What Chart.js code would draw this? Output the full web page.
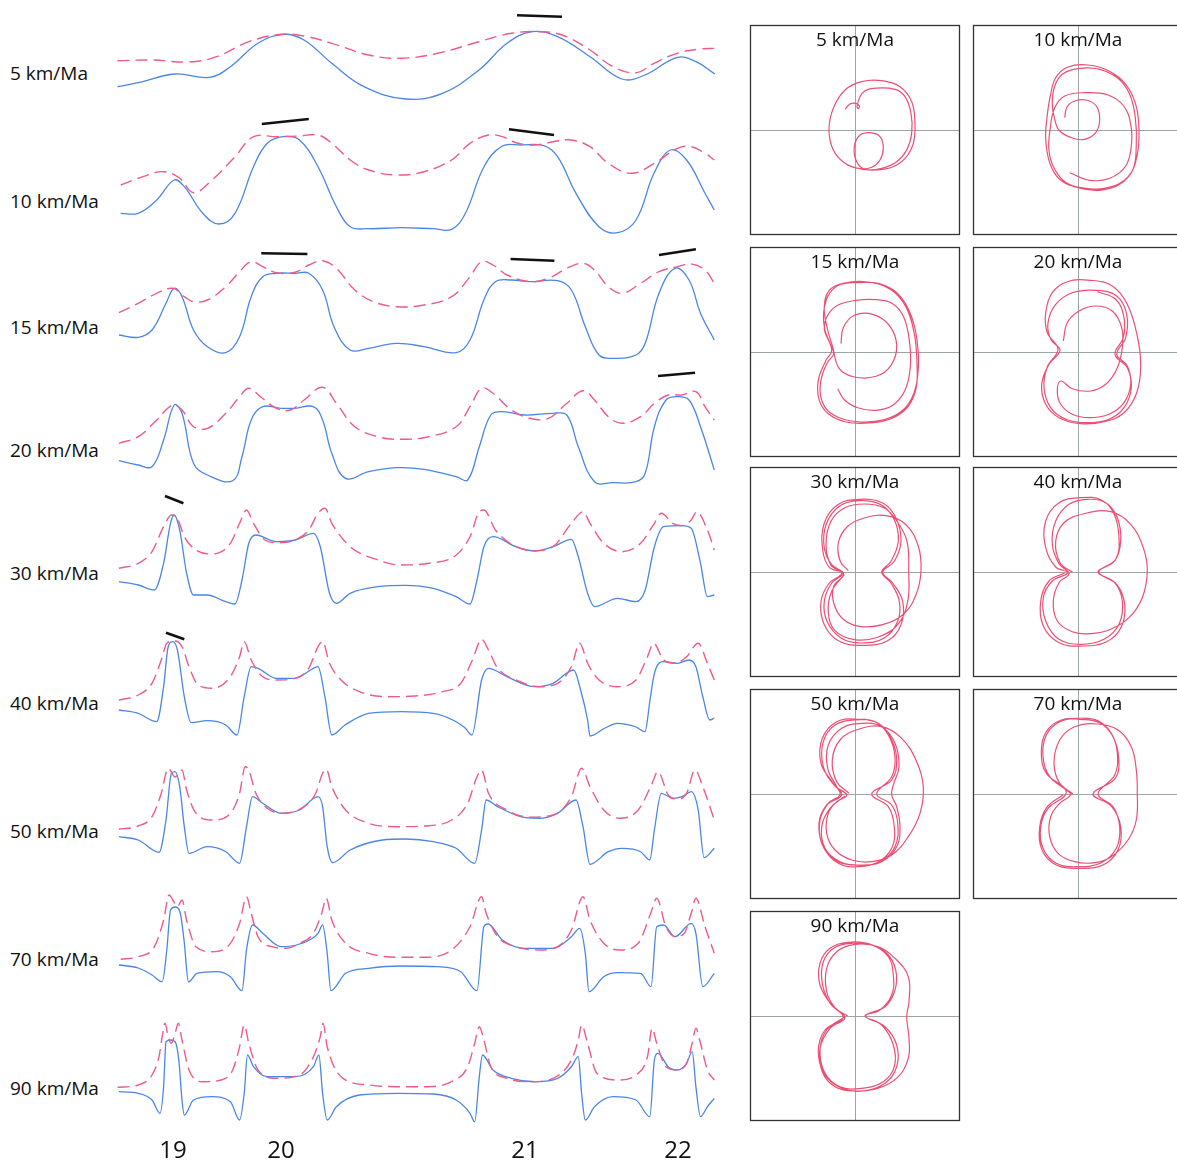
<!DOCTYPE html>
<html><head><meta charset="utf-8">
<script src="https://cdn.jsdelivr.net/npm/chart.js@4.4.1/dist/chart.umd.min.js"></script>
<style>
html,body{margin:0;padding:0;background:#fff;width:1177px;height:1162px;overflow:hidden;position:relative;font-family:"Open Sans",sans-serif;}
canvas{position:absolute;}
.lbl{position:absolute;font-size:19px;line-height:24px;color:#111;white-space:nowrap;}
.ttl{position:absolute;font-size:19px;line-height:24px;color:#111;text-align:center;width:210px;}
</style></head><body>
<script>
// ---------- DATA ----------
const rates = ['5 km/Ma','10 km/Ma','15 km/Ma','20 km/Ma','30 km/Ma','40 km/Ma','50 km/Ma','70 km/Ma','90 km/Ma'];
const tickPositions = [56, 164, 408, 561];
const tickLabels = ['19','20','21','22'];

// profiles: [distance, anomaly]
const solid5 = [[0.5,23.3],[21,27.3],[58,36],[92.7,32.7],[113.4,43.3],[141,66.7],[166.4,75.7],[187,70],[214.8,46.7],[247,23.3],[288.5,11],[325.4,16.7],[362,40],[390,66.7],[415,78.3],[440.6,73.3],[473,53.3],[505,31],[528,35],[560.4,52.7],[579,48.3],[598,36]];
const dashed5 = [[0.5,49.3],[35,50],[72,48],[99.6,53.3],[131.8,68.3],[164,75.7],[187,74],[214.8,66.7],[251.7,55],[284,51.7],[320.8,56.7],[362,68.3],[394.5,76.7],[422,78.3],[445,75],[473,60],[496,43.3],[519,37.3],[537,46.7],[560,56.7],[583.5,61],[599,61.7]];
const marks5 = [[[400,94.7],[445,93.3]]];

const solid10 = [[3.7,26.7],[21.2,26.7],[39.7,40],[57.2,60],[67.3,53.3],[85.8,26.7],[101.9,16],[118,26.7],[136.5,73.3],[150.3,96.7],[166.4,103.3],[182.5,100],[201,73.3],[219.4,33.3],[233.2,13.3],[251.7,11.3],[284,12.3],[316.2,11.3],[334.6,10.7],[348.4,26.7],[367,73.3],[385.3,94],[403.7,95],[426.8,94.3],[440.6,83.3],[459,46.7],[482,13.3],[500.5,7.3],[519,20],[537,66.7],[553.5,90],[569.6,80],[588,46.7],[597.3,30]];
const dashed10 = [[3.7,55],[25.9,63.3],[46.6,68.3],[62.7,61.7],[76.5,47.3],[95,60],[118,83.3],[136.5,103.3],[159.5,103.3],[182.5,104],[201,105],[214.8,96.7],[233.2,80],[251.7,70],[279.3,65],[307,68.3],[334.6,80],[353,96.7],[371.5,105],[385.3,103.3],[399,97.3],[417.6,95],[436,98.3],[454.4,100],[473,93.3],[491.3,76.7],[514.3,66.7],[537.4,76.7],[560.4,91.7],[574.2,93.3],[588,86.7],[597.3,80]];
const marks10 = [[[144.8,116],[191.8,121]],[[392,110.7],[437,105]]];

const solid15 = [[1.9,30],[21.2,27.7],[35,35],[49,61.7],[57.2,76.7],[65,68.3],[76.5,35],[90.4,18.3],[108.8,12.3],[122.6,28.3],[134.2,68.3],[145.7,88.3],[159.5,91.7],[178,91.7],[191.8,91.7],[205.6,75],[217,38.3],[233.2,15],[251.7,16.7],[279.3,21.7],[307,18.3],[339.2,12.3],[353,25],[366.9,65],[378.4,83.3],[394.5,85],[413,83.3],[440.6,84.3],[454.4,75],[468.3,38.3],[482,10],[496,6.7],[519,10],[528.2,21.7],[542,71.7],[558,96.7],[572,85],[583.5,51.7],[597.3,25]];
const dashed15 = [[1.9,52.3],[21.2,61.7],[39.7,71.7],[55.8,76.7],[67.3,68.3],[76.5,63.3],[90.4,65],[108.8,78.3],[122.6,93.3],[134.2,103.3],[145.7,98.3],[159.5,92.3],[178,92.7],[191.8,100],[205.6,104.3],[219.4,96.7],[237.8,75],[256.3,63.3],[279.3,58.3],[307,60],[334.6,68.3],[353,88.3],[364.6,103.3],[376,100],[390,90],[413,83.3],[431.4,86.7],[449.8,96.7],[466,101.7],[477.5,95],[491.3,78.3],[505,71.7],[523.6,81.7],[542,93.3],[560.4,98.3],[574.2,101],[588,95],[597.3,81.7]];
const marks15 = [[[144.3,111.7],[190.4,111]],[[393.6,106],[437.4,104.3]],[[542,110],[578.9,115.7]]];

const solid20 = [[1.9,29.3],[21.2,25],[35,23.3],[46.6,50],[57.2,85],[65,76.7],[76.5,26.7],[90.4,15],[115.7,9.3],[125,33.3],[134.2,70],[145.7,83.3],[164,81.7],[178,81.7],[196.4,83.3],[205.6,70],[214.8,36.7],[228.6,11.7],[251.7,18.3],[279.3,22.3],[307,20.7],[339.2,13.3],[350.7,10],[362.3,43.3],[373.8,75],[385.3,78.3],[408.3,75],[436,76.7],[449.8,75],[461.3,43.3],[477.5,8.3],[496,7.3],[519,8.3],[528.2,16.7],[537.4,63.3],[549,90],[560.4,93.3],[572,90],[583.5,63.3],[597.3,20]];
const dashed20 = [[1.9,46.7],[21.2,53.3],[39.7,70],[55.8,85],[65,80],[76.5,63.3],[90.4,61.7],[108.8,76.7],[122.6,93.3],[131.8,101.7],[143.4,93.3],[159.5,81.7],[173.3,80],[187.1,90],[205.6,102.7],[219.4,86.7],[237.8,63.3],[260.9,53.3],[284,50.7],[311.6,53.3],[339.2,63.3],[353,83.3],[364.6,101.7],[376,96.7],[394.5,80],[413,71.7],[431.4,71.7],[449.8,86.7],[466,99.3],[477.5,90],[491.3,73.3],[505,66.7],[523.6,73.3],[537.4,86.7],[551.2,95],[565,95],[578.9,98.3],[588,83.3],[597.3,70]];
const marks20 = [[[541,114],[578,117.3]]];

const solid30 = [[1.9,30.3],[21.2,27],[37.4,22],[46.6,48.7],[53.5,88.7],[57.2,97],[62.7,82],[69.6,38.7],[76.5,17],[90.4,17],[108.8,10.3],[118,8],[125,32],[131.8,68.7],[138.8,77],[159.5,70.3],[178,72],[196.4,78.7],[203.3,65.3],[212.5,18.7],[219.4,8.7],[233.2,18.7],[260.9,25.3],[288.5,26.7],[316.2,23.7],[339.2,15.3],[353,8],[360,32],[366.9,65.3],[376,75.3],[399,65.3],[417.6,61],[436,65.3],[454.4,72.7],[461.3,55.3],[470.6,18.7],[477.5,5.3],[500.5,13.7],[519,10.3],[528.2,22],[537.4,65.3],[546.6,85.3],[565,86.3],[574.2,83.7],[583.5,48.7],[590.4,15.3],[597.3,17]];
const dashed30 = [[1.9,43.7],[21.2,48.7],[35,60.3],[46.6,85.3],[54.4,97],[60.4,93.7],[67.3,75.3],[78.9,62],[95,58],[113.4,68.7],[122.6,88.7],[129.5,102],[136.5,88.7],[148,72],[159.5,69.3],[178,72],[191.8,82],[201,98.7],[207.9,103.7],[214.8,88.7],[233.2,65.3],[260.9,52],[284,47],[311.6,48.7],[339.2,57],[353,75.3],[362.3,100.3],[366.9,102],[378.4,82],[399,65.3],[417.6,61.3],[436,65.3],[454.4,88.7],[466,100.3],[473,88.7],[486.7,68.7],[505,60.3],[523.6,68.7],[537.4,88.7],[544.3,98.7],[555.8,88.7],[565,86.3],[574.2,92],[579.8,100.3],[590.4,82],[597.3,62]];
const marks30 = [[[48,116],[66.4,108.7]]];

const solid40 = [[1.9,30],[21.2,26.7],[39.7,18.3],[46.6,53.3],[51.2,93.3],[55.8,98.3],[60.4,90],[67.3,43.3],[74.2,17.3],[90.4,19.3],[108.8,15],[120,5],[127.2,43.3],[134.2,73.3],[141,71.7],[159.5,61.7],[178,61.7],[196.4,71.7],[201,73.3],[207.9,43.3],[214.8,5],[228,15],[251.7,26.7],[284,28.3],[316.2,26.7],[339.2,18.3],[348.4,11.7],[355,5],[364.6,60],[371.5,71.7],[390,63.3],[417.6,53.3],[436,56.7],[456.7,70],[463.6,50],[470.6,20],[473,4],[488,12],[500.5,16.7],[519,13],[528,8.3],[533,40],[537.4,66.7],[546.6,78.3],[560.4,76.7],[572,80],[578.9,73.3],[585.8,43.3],[592.7,20],[597.3,22]];
const dashed40 = [[1.9,40],[21.2,45],[35,56.7],[44.3,80],[49.8,96.7],[57.2,99.3],[65,93.3],[72,73.3],[81.2,55],[95,51.7],[113.4,63.3],[122.6,83.3],[127.2,98.3],[134.2,80],[145.7,63.3],[159.5,60],[178,61.7],[191.8,71.7],[201,93.3],[205.6,98.3],[212.5,76.7],[224,60],[242.4,48.3],[270,43.3],[297.7,44],[325.4,48.3],[343.8,56.7],[355.4,80],[364.6,100.7],[371.5,90],[380.7,71.7],[399,60],[422,53.3],[440.6,56.7],[454.4,73.3],[462.7,96.7],[470.6,76.7],[482,60],[500.5,53.3],[519,60],[530.5,83.3],[536.5,96.7],[546.6,80],[558,76.7],[569.6,83.3],[581.2,96.7],[590.4,76.7],[597.3,60]];
const marks40 = [[[49,107.3],[67.3,100.7]]];

const solid50 = [[1.9,33.3],[21.2,30],[42,17.7],[49,50],[54.4,96.7],[58.1,98.3],[62.7,83.3],[67.3,43.3],[72,16.7],[90.4,23.3],[108.8,18.3],[122.6,6.7],[129.5,43.3],[135.5,73.3],[145.7,66.7],[164,56.7],[182.5,60],[201,73.3],[205.6,63.3],[210.2,23.3],[215.7,7.3],[233.2,20],[265.5,30],[288.5,31],[316.2,28.3],[339.2,21.7],[357.7,6.7],[364.6,40],[369.2,70],[380.7,63.3],[403.7,53.3],[422.2,51.7],[440.6,56.7],[459,70],[466,43.3],[473,5.7],[491.3,18.3],[505,21.7],[523.6,18.3],[532.8,10],[537.4,40],[544.3,76.7],[555.8,71.7],[565,73.3],[574.2,78.3],[581.2,60],[587.1,12.3],[597.3,21.7]];
const dashed50 = [[1.9,40.7],[21.2,44],[35,53.3],[44.3,76.7],[51.2,101.7],[58.1,93],[65,100],[69.6,80],[78.9,56.7],[95,50],[113.4,56.7],[122.6,76.7],[128.2,103.3],[131.8,100],[138.8,76.7],[150.3,61.7],[164,56.7],[182.5,60.7],[198.7,76.7],[205.6,96.7],[209.3,100.7],[214.8,83.3],[228.6,60],[251.7,46.7],[279.3,43.3],[307,44],[334.6,50],[350.7,66.7],[360,93.3],[364.6,100],[371.5,76.7],[390,60],[413,52.7],[436,55],[454.4,73.3],[464.6,101.7],[473,83.3],[486.7,60],[502.8,51.7],[521.2,60],[533.7,83.3],[541,98.3],[551.2,75],[560.4,71],[569.6,76.7],[578,100],[585.8,83.3],[597.3,50]];

const solid70 = [[1.9,30],[21.2,27],[35,20],[45.2,13.3],[49.8,45],[53.5,85],[58,88],[63,83],[67,55],[71.5,13],[80,21.7],[99.6,23.3],[113.4,18.3],[125,4.3],[129.5,45],[135.5,70],[145.7,61.7],[164,48.3],[182.5,51],[201,61.7],[205.6,70],[210.2,41.7],[213.9,4.3],[228.6,21.7],[251.7,26.7],[284,29],[320.8,28.3],[343.8,23.3],[360,4.3],[366.9,68.3],[371,71],[385.3,55],[408.3,46.7],[436,46.7],[454.4,58.3],[462.7,66.7],[468.3,41.7],[472,3.3],[486.7,18.3],[500.5,22.3],[523.6,21.7],[534,8.3],[539.7,68.3],[546.6,70],[558.1,58.3],[574.2,71.7],[578.9,61.7],[585.8,8.3],[597.3,21.7]];
const dashed70 = [[3.7,35.7],[21.2,38.3],[37.4,48.3],[46.6,75],[52.1,100],[55.8,95],[60.4,88.3],[65,95],[69.6,75],[78.9,48.3],[95,43.3],[113.4,51.7],[122.6,71.7],[129.5,98.3],[134.2,81.7],[141,58.3],[154.9,48.3],[168.7,46.7],[182.5,51.7],[196.4,61.7],[204.7,81.7],[209.3,96.7],[214.8,75],[228.6,51.7],[251.7,41.7],[279.3,37.7],[307,37.7],[334.6,45],[353,68.3],[364.6,98.3],[369.2,81.7],[380.7,58.3],[399,48.3],[422.2,45],[440.6,48.3],[454.4,65],[466,98.3],[473,75],[486.7,51.7],[502.8,45],[521.2,51.7],[533.7,81.7],[539.7,96.7],[548.9,68.3],[558.1,58.3],[567.3,61.7],[574.2,81.7],[578.9,96.7],[588,68.3],[597.3,41.7]];

const solid90 = [[1.9,33.3],[21.2,31.7],[35,25],[43,11.7],[46.6,38.3],[49,83.3],[53.5,85],[58.1,83.3],[61.8,65],[65,25],[67.3,10],[76.5,25],[95,28.3],[113.4,23.3],[122.6,5],[127.2,31.7],[130.5,70],[136.5,58.3],[150.3,48.3],[178,48.3],[196.4,58.3],[201.9,70],[205.6,31.7],[210.2,5],[219.4,18.3],[242.4,30],[279.3,31.7],[316.2,31],[339.2,25],[353,11.7],[357.7,3.3],[362.3,48.3],[365.5,70],[376,55],[394.5,46.7],[417.6,43.3],[440.6,46.7],[454.4,58.3],[461.3,68.3],[464.6,31.7],[468.3,5],[477.5,18.3],[496,28.3],[519,25],[532.8,8.3],[537.4,65],[541,71.7],[551.2,58.3],[560.4,55],[569.6,61.7],[575.2,73.3],[578.9,38.3],[583.5,8.3],[590.4,18.3],[597.3,26.7]];
const dashed90 = [[0.5,37.7],[21.2,40],[35,50],[42,68.3],[45.2,88.3],[48,101.7],[51.2,88.3],[54.4,81.7],[58.1,91.7],[61.3,101.7],[65,85],[72,55],[85.8,43.3],[104.2,45],[115.7,55],[122.6,78.3],[127.2,100],[131.8,81.7],[141,55],[159.5,46.7],[182.5,50],[196.4,68.3],[203.3,88.3],[206,101.7],[210.2,78.3],[224,48.3],[251.7,40],[279.3,38.3],[307,38.3],[334.6,43.3],[350.7,58.3],[357.7,81.7],[362.3,98.3],[366.9,85],[373.8,58.3],[390,46.7],[413,43.3],[436,46.7],[454.4,65],[461.3,85],[464.6,100],[470.6,81.7],[479.8,51.7],[500.5,45],[519,50],[530.5,68.3],[535.1,96.7],[539.7,81.7],[548.9,58.3],[560.4,55],[569.6,61.7],[575.2,81.7],[578.9,96.7],[583.5,81.7],[590.4,55],[597.3,45]];

// hodographs: [horizontal, vertical]
const loop5 = [[-10,20.7],[-5,26],[0.7,26.7],[4.3,24],[3.3,21.3],[2,23.3],[5,33.3],[10,39.3],[18.3,41.7],[40,40.7],[50,33.3],[56,16.7],[56.7,-3.3],[51.7,-20],[41.7,-31.7],[26.7,-38.3],[10,-39.3],[1.7,-31.7],[-0.7,-16.7],[5,-5],[15,-2.7],[25,-6.7],[28.3,-18.3],[25,-30],[16.7,-37.3],[5,-38.7],[-10,-33.3],[-21.7,-20],[-26,0],[-21.7,21.7],[-10,40],[6.7,48.3],[26.7,49.3],[45,43.3],[56.7,28.3],[60,6.7],[58.3,-13.3],[50,-28.3],[36.7,-37.3],[20,-40],[6.7,-39.3]];
const loop10 = [[-8.3,-42.7],[11.7,-50.3],[31.7,-48.3],[47.7,-36],[53.3,-16],[52.7,5.7],[45.7,24],[30,35],[6.7,37.3],[-13.3,34],[-23.3,22.3],[-27.7,2.3],[-29,-21],[-23.3,-39.3],[-11.7,-52.7],[8.3,-58.3],[30,-57.7],[50,-47],[59,-26],[61,0.7],[57.7,25.7],[47.7,45.7],[31,59],[10,65],[-10,63],[-22.3,52.3],[-27.7,34],[-31,12.3],[-32.3,-9.3],[-28.3,-32.7],[-18.3,-49.3],[0,-57.7],[21.7,-60.3],[41.7,-54.3],[55,-39.3],[58.3,-14.3],[57.3,12.3],[51.7,35.7],[40,51.7],[21.7,60.7],[1.7,61.7],[-15,56.3],[-23.3,44],[-25.7,25.7],[-23.3,10.7],[-18.3,-1],[-5,-8.3],[6.7,-9.3],[17.7,-2.7],[21.7,10.7],[18.3,24],[8.3,30],[-3.3,29],[-11,23],[-13.3,12.3]];
const loop15 = [[-17.3,-36.7],[-10.7,-47.7],[2.7,-55.7],[21,-58.3],[37.7,-53.3],[50,-38.3],[55.3,-15],[54.3,11.7],[48.7,35],[37.7,48.3],[21,52.3],[1,51.7],[-17.3,46.7],[-27.3,36.7],[-30.7,23.3],[-25.7,10],[-21.3,-1.7],[-27.3,-10],[-33.3,-25],[-34.7,-41.7],[-29,-56.7],[-15.7,-65.7],[6,-70],[29.3,-67.7],[47.7,-58.3],[58.7,-41.7],[63.3,-16.7],[62,11.7],[56,36.7],[42.7,58.3],[24.3,68.3],[4.3,69.3],[-14,67.7],[-25.7,58.3],[-31.3,40],[-30,21.7],[-23.3,1.7],[-29,-8.3],[-36.7,-28.3],[-35.7,-48.3],[-26.7,-61.7],[-9,-70],[14.3,-71],[36,-66.7],[52.7,-55],[61,-36.7],[62,-11.7],[59.3,18.3],[51,45],[36,62.3],[12.7,70],[-10.7,69],[-25.7,61.7],[-30.7,45],[-28,25],[-22.3,5],[-15.7,-16.7],[-0.7,-25],[21,-24.3],[36,-13.3],[41.7,6.7],[34.3,26.7],[17.7,37.7],[-0.7,36.7],[-11.7,24.3],[-14,8.3]];
const loop20 = [[-14.7,11],[-10.7,29.3],[1,41],[17.7,46],[34.3,41],[43.7,24.3],[44.3,4.3],[38.7,-17.3],[27.7,-32.3],[12.7,-39],[-5.7,-36.7],[-17.3,-29],[-20.7,-39],[-17.3,-52.3],[-5.7,-62.3],[11,-65.7],[31,-62.3],[46,-50.7],[52.7,-32.3],[49.3,-14],[38.7,-2.3],[47.7,14.3],[48.7,37.7],[38.7,56],[17.7,61.7],[-5.7,59.3],[-22.3,47.7],[-30,29.3],[-27.3,12.7],[-18,1.7],[-29,-12.3],[-36.3,-32.3],[-32.3,-52.3],[-19,-65.7],[2.7,-71.7],[26,-69.7],[46,-60.7],[58.7,-40.7],[62.7,-14],[59.3,16],[49.3,47.7],[34.3,66],[12.7,71.7],[-10.7,70.3],[-25.7,59.3],[-32.3,39.3],[-30.7,19.3],[-20,2.7],[-30.7,-15],[-34,-35.7],[-27.3,-55.7],[-12.3,-67.3],[9.3,-70.7],[31,-67.3],[46,-55.7],[53.3,-35.7],[49.3,-15.7],[37,-2.3],[45.3,14.3],[46,34.3],[37.7,52.7],[19.3,60.3]];
const loop30 = [[-6.7,1.3],[-14.7,10.7],[-16.7,29],[-7.3,45.7],[9.3,54],[31,56.3],[51,47.3],[63.3,25.7],[66,0.7],[61,-22.7],[48.7,-42],[27.7,-52.7],[4.3,-54.3],[-12.3,-46.7],[-21.3,-31],[-21.3,-14.3],[-11.3,-2],[-23.3,7.3],[-30.7,24],[-29,47.3],[-15.7,65.7],[4.3,71.3],[26,67.3],[39.3,52.3],[43.3,30.7],[36,10.7],[26.7,0],[36,-11],[44.3,-29.3],[42.7,-49.3],[29.3,-66],[6,-71],[-14,-66],[-28,-49.3],[-30.7,-29.3],[-23.3,-11],[-12,-1.3],[-25.7,4.7],[-32.3,22.3],[-30.7,49],[-17.3,67.3],[4.3,72.7],[27.7,69],[41,54],[46,30.7],[39.3,10.7],[27.7,-0.3],[37.7,-11],[47.7,-29.3],[46,-52.7],[32.7,-68.7],[7.7,-73.3],[-15.7,-69.3],[-30.7,-52.7],[-34,-29.3],[-25.7,-11],[-13.3,-1.3],[-24,6.7],[-29,27.3],[-24,50.7],[-10.7,64],[9.3,68],[29.3,64],[42,50.7],[52,30.7],[53.7,0.7],[52.7,-29.3],[42.7,-52.7],[22.7,-65.3],[-0.7,-67.7],[-20,-58.7],[-26.7,-41],[-23.3,-19.3],[-10.7,-2.7]];
const loop40 = [[-5.7,0],[-18,9.3],[-22.3,31],[-14,49.3],[6,58.3],[32.7,60.3],[52.7,47.7],[65.3,24.3],[69.3,1],[64.3,-25.7],[51,-45.7],[32.7,-57.3],[12.7,-61.7],[-5.7,-59.7],[-20.7,-49],[-24.7,-29],[-19,-10.7],[-9,-1.7],[-19,8.3],[-25.7,27.7],[-22.3,51],[-9,67.7],[9.3,72.7],[27.7,69.3],[39.3,54.3],[42.7,31],[36.7,11],[20,0],[36.7,-10.7],[44.3,-29],[41,-52.3],[26,-67.3],[2.7,-72.3],[-19,-67.3],[-32.3,-49],[-34.7,-25.7],[-25.7,-9],[-10,-0.7],[-22.3,5],[-32.3,24.3],[-32.3,51],[-19,69.3],[2.7,74.3],[23.3,72],[36,58.3],[41,34.3],[37.7,12.7],[21,0],[38.7,-12.3],[46.7,-32.3],[43.3,-55],[28.7,-69.7],[4.3,-74],[-19,-70.7],[-34.7,-54],[-37.3,-29],[-29,-9],[-13.3,-1]];
const loop50 = [[-6,0.7],[-18.3,12.3],[-22.7,34],[-15,54],[3.3,64.7],[26.7,67.3],[46.7,55.7],[61.7,32.3],[68.3,7.3],[65,-19.3],[53.3,-42.7],[36.7,-61],[16.7,-67.7],[-3.3,-66],[-20,-56],[-28.3,-39.3],[-26.7,-19.3],[-18.3,-7.7],[-8.3,-1],[-20,8],[-31.7,27.3],[-31.7,52.3],[-20,69],[0,74],[20,72.3],[33.3,59],[40,37.3],[36.7,17.3],[21.7,0],[36.7,-11],[42.7,-29.3],[40,-52.7],[25,-67.7],[3.3,-72.7],[-16.7,-69.3],[-31.7,-52.7],[-36,-29.3],[-28.3,-11],[-13.3,-1],[-21.7,10.7],[-34,30.7],[-32.7,55.7],[-18.3,72.3],[3.3,74.7],[23.3,70.7],[36.7,54],[41.7,34],[36.7,14],[16.7,0],[33.3,-12.7],[39.3,-32.7],[36.7,-54.3],[21.7,-68.7],[0,-71],[-20,-66],[-33.3,-49.3],[-35,-26],[-26.7,-9.3],[-15,-1],[-18.3,7.3],[-27.3,25.7],[-26.7,49],[-13.3,65.7],[6.7,70.7],[26.7,67.3],[40,50.7],[44,27.3],[38.3,9],[36.7,-1],[41.7,-12.7],[45,-32.7],[41.7,-52.7],[26.7,-67.7],[5,-71],[-15,-67.7],[-30,-54.3],[-33.3,-32.7],[-25,-14.3],[-10,-2]];
const loop70 = [[-5,0],[-18.3,10.7],[-24,30.7],[-18.3,54],[-3.3,67.3],[20,70],[40,64],[53.3,47.3],[58.3,24],[59.3,0.7],[58.3,-26],[50,-46],[33.3,-62.7],[16.7,-68.7],[-3.3,-67.7],[-20,-59.3],[-28.3,-42.7],[-27.3,-22.7],[-18.3,-9.3],[-7.3,-1],[-11.7,4],[-28.3,17.3],[-35,37.3],[-31.7,59],[-18.3,72.3],[0,75.7],[20,73.3],[33.3,60.7],[39.3,40.7],[36.7,19],[20,0],[35,-12.7],[41.7,-32.7],[38.3,-54.3],[23.3,-68.7],[0,-72.7],[-21.7,-69.3],[-35,-54.3],[-37.3,-32.7],[-30,-14.3],[-13.3,-2],[-13.3,5.7],[-31.7,20.7],[-36.7,42.3],[-31.7,62.3],[-16.7,74],[1.7,74.7],[21.7,71.3],[35,57.3],[40.7,35.7],[37.3,15.7],[15,0],[33.3,-12],[42.7,-32.7],[40,-56],[25,-71],[1.7,-74.3],[-21.7,-71],[-36,-56],[-38.3,-32.7],[-30.7,-12.7],[-15,-1]];
const loop90 = [[-7.3,0],[-20,8.3],[-28.3,24.3],[-28.3,47.7],[-18.3,64.3],[0,71.7],[23.3,69.3],[40,57.7],[53.3,39.3],[54,14.3],[51.7,-0.7],[54,-22.3],[53.3,-42.3],[43.3,-60.7],[23.3,-72.3],[0,-75],[-20,-70.7],[-32.7,-55.7],[-35,-32.3],[-25,-12.3],[-10,-1.7],[-23.3,11],[-35,31],[-35,52.7],[-25,67.7],[-6.7,73.7],[13.3,72.3],[31.7,62.7],[40.7,46],[40,26],[30,9.3],[10.7,0],[30,-10.7],[41.7,-29],[41.7,-50.7],[30,-67.3],[8.3,-75],[-13.3,-72.3],[-30,-59],[-36.7,-35.7],[-30,-14],[-11.7,-1.7],[-25,12.7],[-32.7,32.7],[-31.7,54.3],[-20.7,68.3],[-3.3,72.7],[16.7,71],[33.3,59.3],[38.3,41],[36.7,21],[25,6],[10,0],[26.7,-9],[38.3,-29],[39.3,-50.7],[28.3,-65.7],[6.7,-72.3],[-15,-70.7],[-30,-57.3],[-35,-34],[-28.3,-14],[-10,-0.7]];

// ---------- LAYOUT / STYLE ----------
const BLUE = '#4a86e6', PINK = '#ef5a88', LOOP = '#ec4f74';
const solids = [solid5, solid10, solid15, solid20, solid30, solid40, solid50, solid70, solid90];
const dasheds = [dashed5, dashed10, dashed15, dashed20, dashed30, dashed40, dashed50, dashed70, dashed90];
const marks = [marks5, marks10, marks15, marks20, marks30, marks40, [], [], []];
const loops = [loop5, loop10, loop15, loop20, loop30, loop40, loop50, loop70, loop90];
const rowTop = [0,110,240,365,490,612,740,870,995];
const rowBottom = [110,240,365,490,612,740,870,995,1125];
const labelCenter = [73,200.5,327,450,573,702.5,831,959,1087.5];
const panelLeft = [750,973,750,973,750,973,750,973,750];
const panelTop = [25,25,247,247,467,467,689,689,911];
const AXIS_H = 37;

const pts = a => a.map(p => ({x: p[0], y: p[1]}));

function addCanvas(left, top, w, h) {
  const c = document.createElement('canvas');
  c.width = w; c.height = h;
  c.style.left = left + 'px'; c.style.top = top + 'px';
  c.style.width = w + 'px'; c.style.height = h + 'px';
  document.body.appendChild(c);
  return c;
}
function addText(cls, txt, left, top) {
  const d = document.createElement('div');
  d.className = cls; d.textContent = txt;
  d.style.left = left + 'px'; d.style.top = top + 'px';
  document.body.appendChild(d);
}

Chart.defaults.font.family = '"Open Sans", sans-serif';

// profile rows
for (let i = 0; i < 9; i++) {
  const h = rowBottom[i] - rowTop[i];
  const last = i === 8;
  const smooth = i < 4 ? {tension: 0.4} : {cubicInterpolationMode: 'monotone'};
  const cv = addCanvas(117, rowTop[i], 600, h + (last ? AXIS_H : 0));
  const ds = [
    Object.assign({data: pts(dasheds[i]), borderColor: PINK, borderWidth: 1.4, borderDash: [12, 6], pointRadius: 0, fill: false, clip: false}, smooth),
    Object.assign({data: pts(solids[i]), borderColor: BLUE, borderWidth: 1.3, pointRadius: 0, fill: false, clip: false}, smooth)
  ];
  marks[i].forEach(m => ds.push({data: pts(m), borderColor: '#111', borderWidth: 2.6, pointRadius: 0, tension: 0, fill: false, clip: false}));
  const xScale = {type: 'linear', min: 0, max: 600, display: last,
    grid: {display: false, drawTicks: false}, border: {display: false},
    ticks: {autoSkip: false, maxRotation: 0, padding: 12, color: '#111', font: {size: 24},
            callback: (v, idx) => tickLabels[idx]}};
  if (last) {
    xScale.afterBuildTicks = s => { s.ticks = tickPositions.map(v => ({value: v})); };
    xScale.afterFit = s => { s.height = AXIS_H; };
  }
  new Chart(cv, {
    type: 'line',
    data: {datasets: ds},
    options: {
      responsive: false, animation: false, devicePixelRatio: 1,
      layout: {padding: 0},
      plugins: {legend: {display: false}, tooltip: {enabled: false}},
      scales: {x: xScale, y: {min: 0, max: h, display: false}}
    }
  });
  addText('lbl', rates[i], 10, labelCenter[i] - 12);
}

// hodograph panels
const framePlugin = {
  id: 'frame',
  beforeDatasetsDraw(chart) {
    const {ctx, chartArea: a, scales: {x, y}} = chart;
    ctx.save();
    ctx.strokeStyle = '#9ca6a6'; ctx.lineWidth = 1;
    const cx = Math.round(x.getPixelForValue(0)) + 0.5, cy = Math.round(y.getPixelForValue(0)) + 0.5;
    ctx.beginPath(); ctx.moveTo(cx, a.top); ctx.lineTo(cx, a.bottom);
    ctx.moveTo(a.left, cy); ctx.lineTo(a.right, cy); ctx.stroke();
    ctx.strokeStyle = '#333'; ctx.lineWidth = 1.3;
    ctx.strokeRect(a.left + 0.5, a.top + 0.5, a.width - 1, a.height - 1);
    ctx.restore();
  }
};
for (let i = 0; i < 9; i++) {
  const cv = addCanvas(panelLeft[i] - 1, panelTop[i] - 1, 212, 212);
  new Chart(cv, {
    type: 'scatter',
    data: {datasets: [{data: pts(loops[i]), showLine: true, borderColor: LOOP, borderWidth: 1.2, pointRadius: 0, tension: 0.4, fill: false}]},
    options: {
      responsive: false, animation: false, devicePixelRatio: 1,
      layout: {padding: 1},
      plugins: {legend: {display: false}, tooltip: {enabled: false}},
      scales: {x: {min: -105, max: 105, display: false}, y: {min: -105, max: 105, display: false}}
    },
    plugins: [framePlugin]
  });
  addText('ttl', rates[i], panelLeft[i], panelTop[i] + 14 - 12);
}
</script></body></html>
